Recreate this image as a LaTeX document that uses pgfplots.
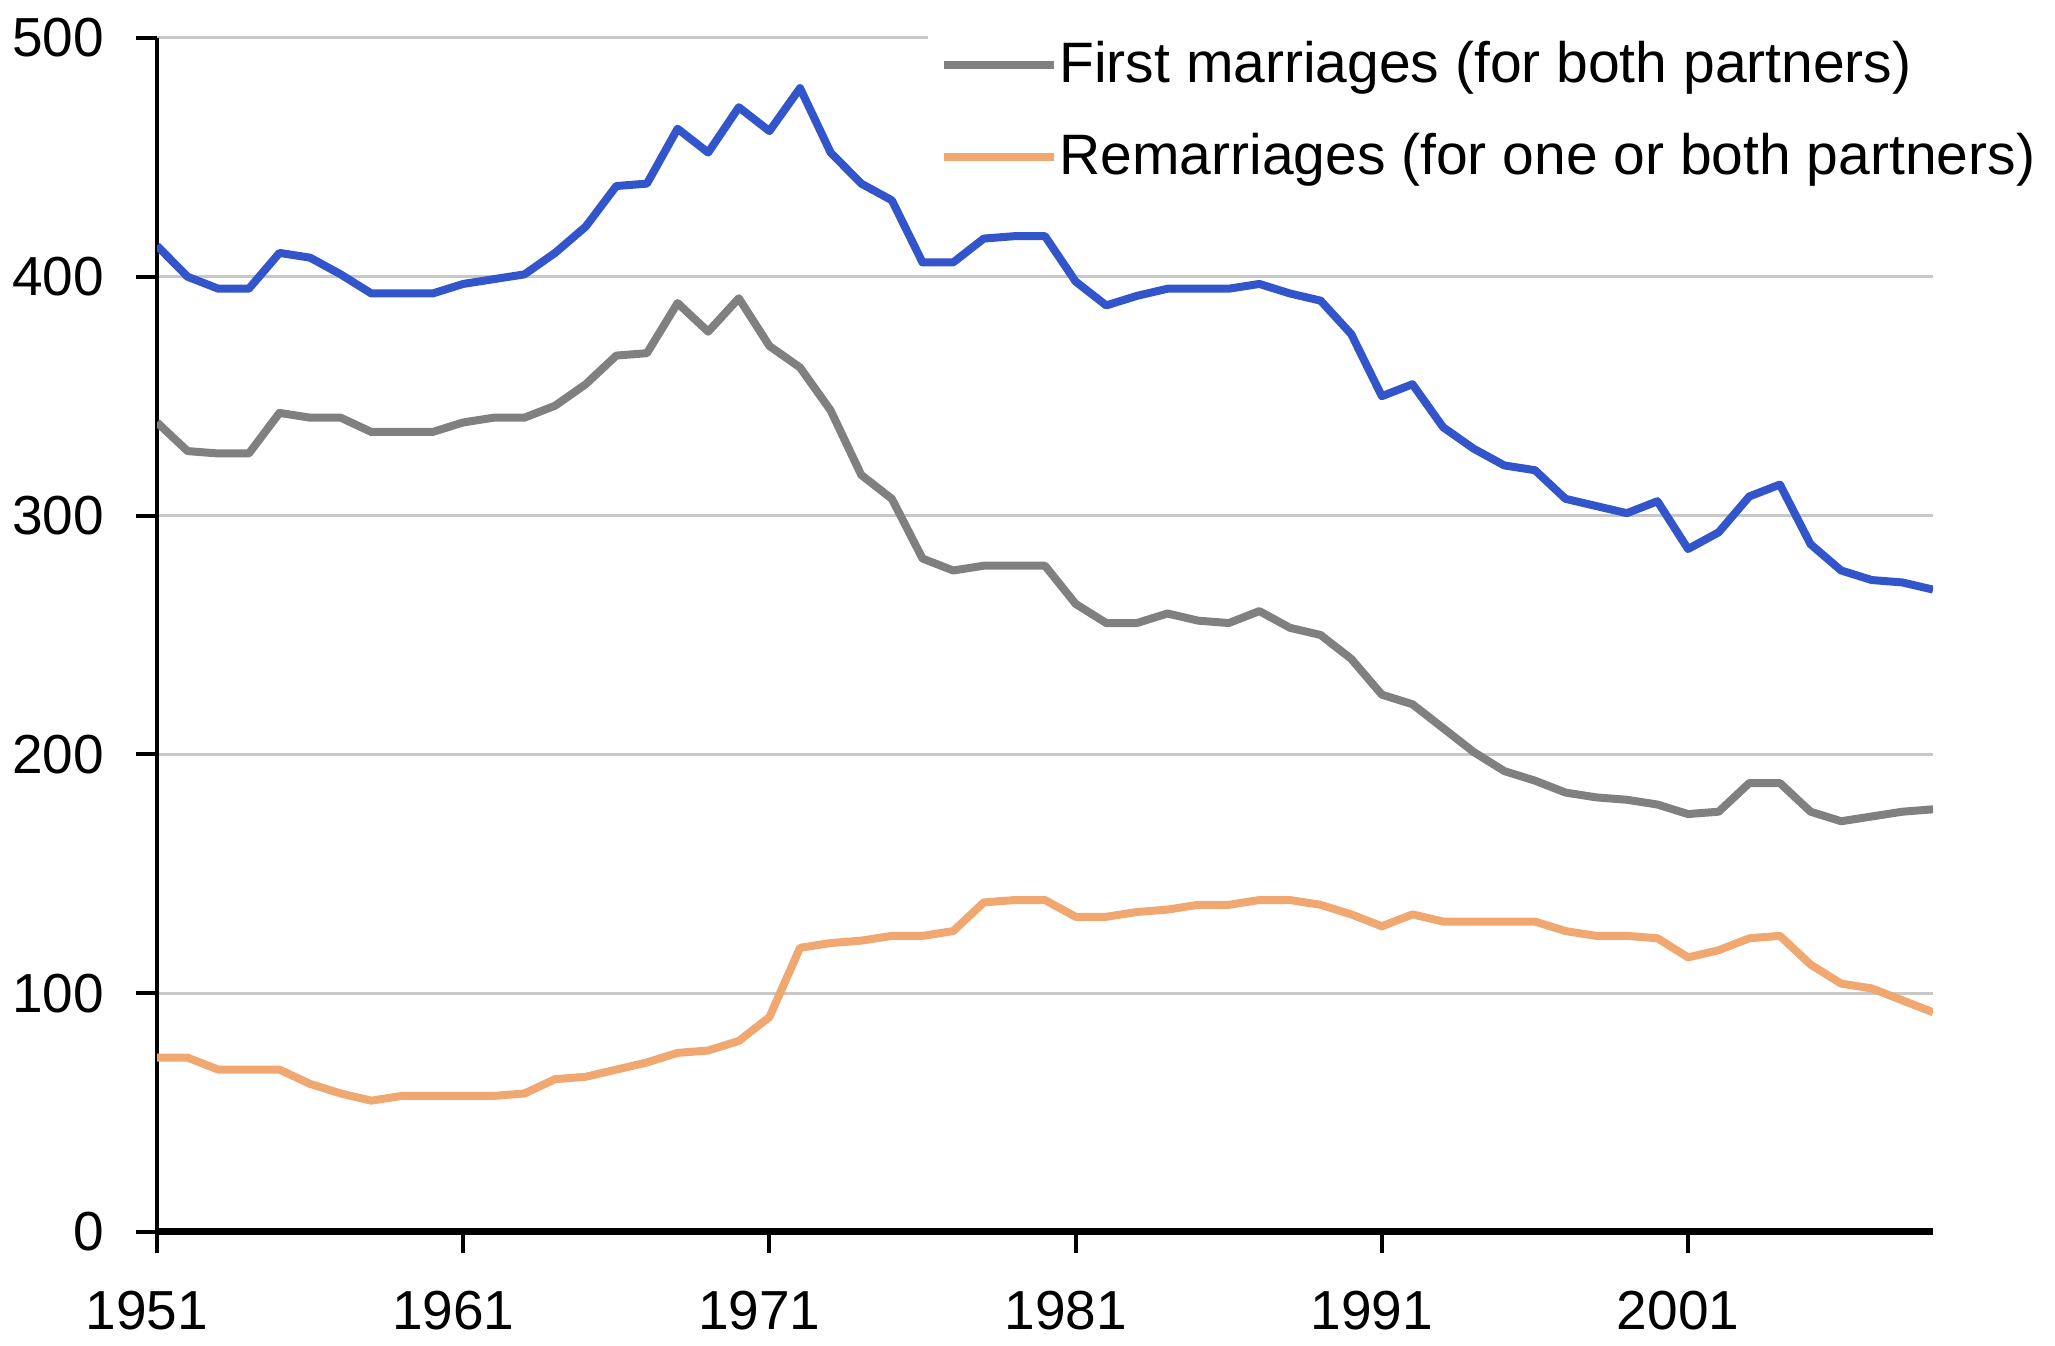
\documentclass[border=0pt]{standalone}
\usepackage{fontspec}
\setmainfont{Liberation Sans}
\usepackage{pgfplots}
\pgfplotsset{compat=1.18}
\usepackage{pgfplotstable}
\definecolor{totblue}{RGB}{51,85,204}
\definecolor{firstgray}{RGB}{128,128,128}
\definecolor{reorange}{RGB}{240,168,112}
\definecolor{gridgray}{RGB}{200,200,200}

\pgfplotstableread{
year total first re
1951 413 339 73
1952 400 327 73
1953 395 326 68
1954 395 326 68
1955 410 343 68
1956 408 341 62
1957 401 341 58
1958 393 335 55
1959 393 335 57
1960 393 335 57
1961 397 339 57
1962 399 341 57
1963 401 341 58
1964 410 346 64
1965 421 355 65
1966 438 367 68
1967 439 368 71
1968 462 389 75
1969 452 377 76
1970 471 391 80
1971 461 371 90
1972 479 362 119
1973 452 344 121
1974 439 317 122
1975 432 307 124
1976 406 282 124
1977 406 277 126
1978 416 279 138
1979 417 279 139
1980 417 279 139
1981 398 263 132
1982 388 255 132
1983 392 255 134
1984 395 259 135
1985 395 256 137
1986 395 255 137
1987 397 260 139
1988 393 253 139
1989 390 250 137
1990 376 240 133
1991 350 225 128
1992 355 221 133
1993 337 211 130
1994 328 201 130
1995 321 193 130
1996 319 189 130
1997 307 184 126
1998 304 182 124
1999 301 181 124
2000 306 179 123
2001 286 175 115
2002 293 176 118
2003 308 188 123
2004 313 188 124
2005 288 176 112
2006 277 172 104
2007 273 174 102
2008 272 176 97
2009 269 177 92
}\data

\begin{document}
\begin{tikzpicture}
\begin{axis}[
  scale only axis, width=355.2pt, height=238.8pt,
  xmin=1951, xmax=2009, ymin=0, ymax=500,
  xtick={1951,1961,1971,1981,1991,2001},
  ytick={0,100,...,500},
  axis x line*=bottom, axis y line*=left,
  x axis line style={-, line width=1.4pt},
  y axis line style={-, line width=0.9pt},
  tick align=outside, major tick length=4.2pt,
  tick style={black, line width=0.8pt},
  ymajorgrids, grid style={gridgray, line width=0.6pt},
  font=\fontsize{11}{13}\selectfont,
  ticklabel style={font=\fontsize{11}{13}\selectfont},
  xticklabel style={yshift=-4pt, xshift=-2pt},
  yticklabel style={xshift=-2.9pt},
  /pgf/number format/assume math mode=true,
  /pgf/number format/1000 sep={},
  legend style={at={(0.4335,1)}, anchor=north west, yshift=2.6pt, draw=none, fill=white,
    inner xsep=2.5pt, inner ysep=1pt, row sep=4.6pt,
    font=\fontsize{11.4}{13.5}\selectfont,
    nodes={inner xsep=0.2pt}},
  legend cell align=left,
  legend image code/.code={\draw[#1] (0pt,0pt) -- (22pt,0pt);},
]
\addplot[totblue, line width=1.6pt, line join=round, forget plot] table[x=year,y=total]{\data};
\addplot[firstgray, line width=1.6pt, line join=round] table[x=year,y=first]{\data};
\addlegendentry{First marriages (for both partners)}
\addplot[reorange, line width=1.6pt, line join=round] table[x=year,y=re]{\data};
\addlegendentry{Remarriages (for one or both partners)}
\end{axis}
\pgfresetboundingbox
\path ([xshift=-31.4pt,yshift=-22.8pt]current axis.south west) rectangle ([xshift=24.4pt,yshift=7.6pt]current axis.north east);
\end{tikzpicture}
\end{document}
